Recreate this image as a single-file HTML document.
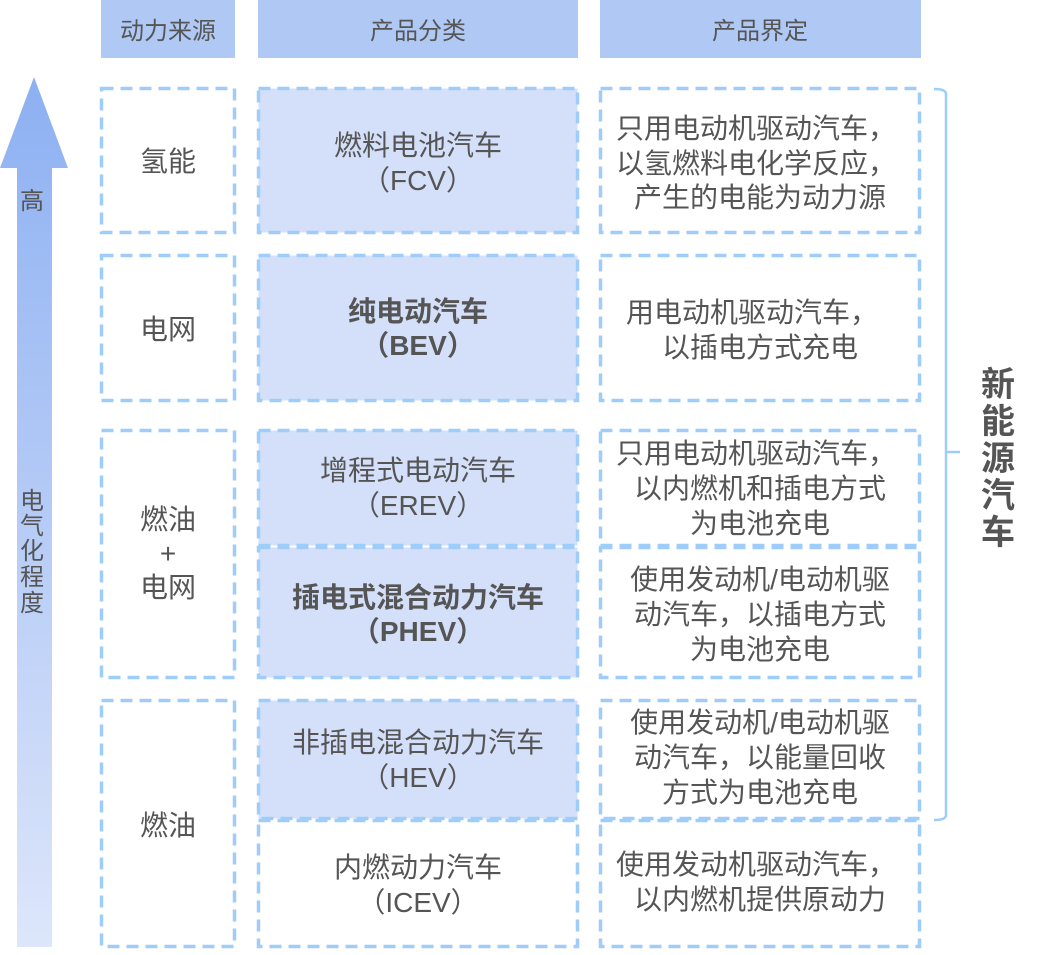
<!DOCTYPE html>
<html><head><meta charset="utf-8"><style>
html,body{margin:0;padding:0;background:#fff;}
svg text{font-family:"Liberation Sans","Noto Sans CJK SC",sans-serif;fill:#555;}
</style></head><body>
<svg width="1040" height="950" viewBox="0 0 1040 950" xmlns="http://www.w3.org/2000/svg">
<defs>
<linearGradient id="g" x1="0" y1="0" x2="0" y2="1">
<stop offset="0" stop-color="#8db0f2"/><stop offset="1" stop-color="#dde6fa"/>
</linearGradient>
</defs>
<polygon points="34,77 68,168 52,168 52,947 17,947 17,168 0,168" fill="url(#g)"/>
<text x="32" y="209" font-size="24" text-anchor="middle">高</text>
<g font-size="24" text-anchor="middle">
<text x="32" y="509">电</text><text x="32" y="534">气</text><text x="32" y="559">化</text><text x="32" y="585">程</text><text x="32" y="611">度</text>
</g>
<rect x="101" y="0" width="134" height="58" fill="#b0c8f4"/>
<rect x="258" y="0" width="320" height="58" fill="#b0c8f4"/>
<rect x="600" y="0" width="321" height="58" fill="#b0c8f4"/>
<g font-size="24" text-anchor="middle">
<text x="168" y="39">动力来源</text><text x="418" y="39">产品分类</text><text x="760" y="39">产品界定</text>
</g>
<g fill="none" stroke="#9fcdfa" stroke-width="3.5" stroke-dasharray="12 7">
<rect x="101.5" y="88.5" width="133" height="144"/>
<rect x="101.5" y="255.5" width="133" height="145"/>
<rect x="101.5" y="430.5" width="133" height="247"/>
<rect x="101.5" y="700.5" width="133" height="246"/>
<rect x="258.5" y="88.5" width="319" height="144" fill="#d4e0f9"/>
<rect x="258.5" y="255.5" width="319" height="145" fill="#d4e0f9"/>
<rect x="258.5" y="430.5" width="319" height="115" fill="#d4e0f9"/>
<rect x="258.5" y="547.5" width="319" height="130" fill="#d4e0f9"/>
<rect x="258.5" y="700.5" width="319" height="118" fill="#d4e0f9"/>
<rect x="258.5" y="820.5" width="319" height="126"/>
<rect x="600.5" y="88.5" width="319" height="144"/>
<rect x="600.5" y="255.5" width="319" height="145"/>
<rect x="600.5" y="430.5" width="319" height="115"/>
<rect x="600.5" y="547.5" width="319" height="130"/>
<rect x="600.5" y="700.5" width="319" height="118"/>
<rect x="600.5" y="820.5" width="319" height="126"/>
</g>
<g font-size="28" text-anchor="middle">
<text x="168" y="171">氢能</text>
<text x="168" y="339">电网</text>
<text x="168" y="529">燃油</text>
<text x="168" y="563">+</text>
<text x="168" y="597">电网</text>
<text x="168" y="835">燃油</text>
</g>
<g font-size="28" text-anchor="middle">
<text x="418" y="155">燃料电池汽车</text><text x="418" y="190">（FCV）</text>
<text x="418" y="321" font-weight="bold">纯电动汽车</text><text x="418" y="355" font-weight="bold">（BEV）</text>
<text x="418" y="480">增程式电动汽车</text><text x="418" y="515">（EREV）</text>
<text x="418" y="607" font-weight="bold">插电式混合动力汽车</text><text x="418" y="641" font-weight="bold">（PHEV）</text>
<text x="418" y="752">非插电混合动力汽车</text><text x="418" y="787">（HEV）</text>
<text x="418" y="877">内燃动力汽车</text><text x="418" y="912">（ICEV）</text>
</g>
<g font-size="28" text-anchor="middle">
<text x="756" y="138">只用电动机驱动汽车，</text>
<text x="756" y="173">以氢燃料电化学反应，</text>
<text x="760" y="207">产生的电能为动力源</text>
<text x="752" y="322">用电动机驱动汽车，</text>
<text x="760" y="357">以插电方式充电</text>
<text x="756" y="463">只用电动机驱动汽车，</text>
<text x="760" y="498">以内燃机和插电方式</text>
<text x="760" y="533">为电池充电</text>
<text x="760" y="589">使用发动机/电动机驱</text>
<text x="760" y="624">动汽车，以插电方式</text>
<text x="760" y="659">为电池充电</text>
<text x="760" y="732">使用发动机/电动机驱</text>
<text x="760" y="767">动汽车，以能量回收</text>
<text x="760" y="802">方式为电池充电</text>
<text x="756" y="874">使用发动机驱动汽车，</text>
<text x="760" y="909">以内燃机提供原动力</text>
</g>
<path d="M934,89 Q946,89 946,94 L946,815 Q946,820 934,820 M946,452 L960,452" fill="none" stroke="#9fcdfa" stroke-width="2.5"/>
<g font-size="34" font-weight="bold" text-anchor="middle">
<text x="998" y="396">新</text><text x="998" y="433">能</text><text x="998" y="470">源</text><text x="998" y="507">汽</text><text x="998" y="544">车</text>
</g>
</svg>
</body></html>
